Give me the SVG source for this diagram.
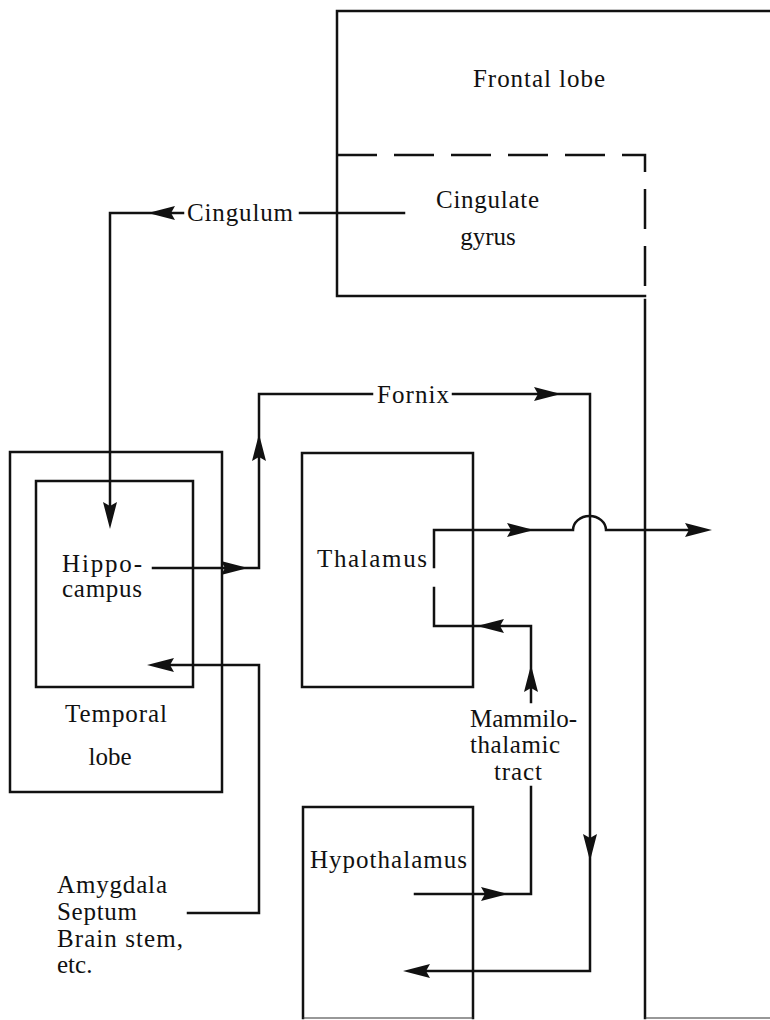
<svg xmlns="http://www.w3.org/2000/svg" xmlns:xlink="http://www.w3.org/1999/xlink" width="770" height="1020" viewBox="0 0 770 1020">
<style>
.ln{fill:none;stroke:#111;stroke-width:2.5;stroke-linecap:square;stroke-linejoin:miter}
.fa{fill:none;stroke:#333;stroke-width:1.2}
.da{fill:none;stroke:#111;stroke-width:2.5;stroke-dasharray:40 17}
.t{font-family:"Liberation Serif","Times New Roman",serif;font-size:25px;fill:#111}
.ah{fill:#111}
</style>
<defs>
<path id="ah" class="ah" d="M0 0 L-27 -7 L-23 0 L-27 7 Z"/>
</defs>
<rect width="770" height="1020" fill="#fff"/>

<g id="frontal-lobe">
<path class="ln" d="M770 11 H337 V296 H645"/>
<path class="ln" d="M645 300 V1018"/>
<path class="fa" d="M645 1018 H770"/>
<text class="t" x="473" y="87" textLength="132" lengthAdjust="spacing">Frontal lobe</text>
</g>

<g id="cingulate-gyrus">
<path class="da" d="M337 155 H645 V296"/>
<text class="t" x="436" y="208" textLength="103" lengthAdjust="spacing">Cingulate</text>
<text class="t" x="488" y="245" text-anchor="middle">gyrus</text>
</g>

<g id="temporal-lobe">
<rect class="ln" x="10" y="452" width="212" height="340"/>
<text class="t" x="65" y="722" textLength="102" lengthAdjust="spacing">Temporal</text>
<text class="t" x="110" y="765" text-anchor="middle">lobe</text>
</g>

<g id="hippocampus">
<rect class="ln" x="36" y="481" width="157" height="206"/>
<text class="t" x="62" y="572" textLength="80" lengthAdjust="spacing">Hippo-</text>
<text class="t" x="62" y="597" textLength="80" lengthAdjust="spacing">campus</text>
</g>

<g id="thalamus">
<rect class="ln" x="302" y="453" width="171" height="234"/>
<text class="t" x="317" y="567" textLength="110" lengthAdjust="spacing">Thalamus</text>
</g>

<g id="hypothalamus">
<path class="ln" d="M303 1018 V807 H473 V1018"/>
<path class="fa" d="M303 1018 H473"/>
<text class="t" x="310" y="868" textLength="157" lengthAdjust="spacing">Hypothalamus</text>
</g>

<g id="inputs">
<text class="t" x="57" y="893" textLength="110" lengthAdjust="spacing">Amygdala</text>
<text class="t" x="57" y="920" textLength="80" lengthAdjust="spacing">Septum</text>
<text class="t" x="57" y="947" textLength="126" lengthAdjust="spacing">Brain stem,</text>
<text class="t" x="57" y="973">etc.</text>
</g>

<g id="connectors">
<!-- Cingulum -->
<path class="ln" d="M404 213 H300"/>
<path class="ln" d="M183 213 H110 V510"/>
<use xlink:href="#ah" transform="translate(148 213) rotate(180)"/>
<use xlink:href="#ah" transform="translate(110 529) rotate(90)"/>
<text class="t" x="187" y="221" textLength="106" lengthAdjust="spacing">Cingulum</text>
<!-- Hippocampus to Fornix -->
<path class="ln" d="M153 568 H259 V394 H372"/>
<use xlink:href="#ah" transform="translate(248 568)"/>
<use xlink:href="#ah" transform="translate(259 434) rotate(-90)"/>
<text class="t" x="377" y="403" textLength="72" lengthAdjust="spacing">Fornix</text>
<path class="ln" d="M453 394 H590 V971 H420"/>
<use xlink:href="#ah" transform="translate(561 394)"/>
<use xlink:href="#ah" transform="translate(590 861) rotate(90)"/>
<use xlink:href="#ah" transform="translate(403 971) rotate(180)"/>
<!-- Thalamus outputs -->
<path class="ln" d="M434 567 V530 H573 A16.5 14 0 0 1 606 530 H695"/>
<use xlink:href="#ah" transform="translate(534 530)"/>
<use xlink:href="#ah" transform="translate(712 530)"/>
<path class="ln" d="M434 588 V626 H531 V702"/>
<use xlink:href="#ah" transform="translate(477 626) rotate(180)"/>
<use xlink:href="#ah" transform="translate(531 665) rotate(-90)"/>
<!-- Mammillothalamic tract -->
<path class="ln" d="M531 787 V894 H415"/>
<use xlink:href="#ah" transform="translate(508 894)"/>
<text class="t" x="470" y="727" textLength="107" lengthAdjust="spacing">Mammilo-</text>
<text class="t" x="470" y="753" textLength="90" lengthAdjust="spacing">thalamic</text>
<text class="t" x="494" y="780" textLength="48" lengthAdjust="spacing">tract</text>
<!-- Amygdala etc. to hippocampus -->
<path class="ln" d="M188 913 H259 V665 H165"/>
<use xlink:href="#ah" transform="translate(147 665) rotate(180)"/>
</g>
</svg>
